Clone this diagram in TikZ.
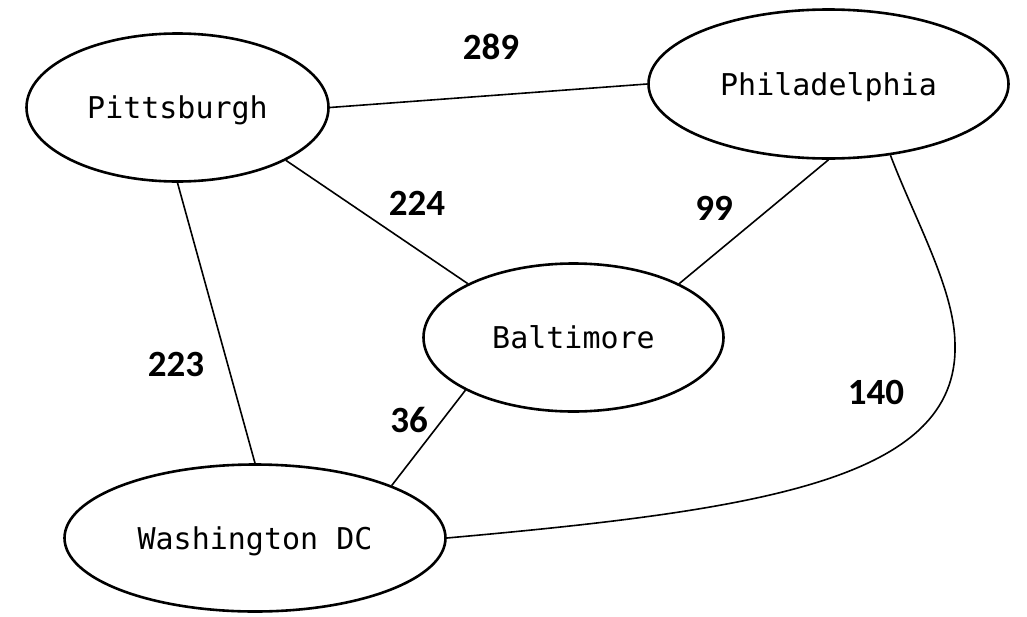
\documentclass[tikz,border=0pt]{standalone}
\usepackage{fontspec}
\setmainfont{Carlito}
\newfontfamily\citymono{DejaVu Sans Mono}
\usetikzlibrary{shapes.geometric}
\begin{document}
\begin{tikzpicture}[x=1pt,y=-1pt,
  city/.style={ellipse, draw, line width=2.6pt, inner sep=0pt, fill=white, text depth=0pt,
    font=\citymono\fontsize{30}{34}\selectfont},
  road/.style={line width=1.6pt},
  dist/.style={font=\bfseries\fontsize{37}{42}\selectfont, inner sep=0pt}]
\useasboundingbox[fill=white] (0,0) rectangle (1027,616);
\node[city, minimum width=302pt, minimum height=148pt] (pitt) at (177.5,107.5) {Pittsburgh};
\node[city, minimum width=360pt, minimum height=149pt] (phil) at (828.5,84) {Philadelphia};
\node[city, minimum width=300pt, minimum height=148pt] (balt) at (573.5,337.5) {Baltimore};
\node[city, minimum width=381pt, minimum height=147pt] (wash) at (255,538) {Washington DC};
\draw[road] (pitt.east) -- (phil.west);
\draw[road] (pitt.-26.7) -- (balt.153.3);
\draw[road] (pitt.south) -- (wash.north);
\draw[road] (phil.south) -- (balt.27.5);
\draw[road] (balt.206.7) -- (wash.21.3);
\coordinate (bend) at (955,345);
\draw[road] (phil.-49.5) .. controls (915,220) and (955,290) .. (bend)
  .. controls (958,480) and (760,510) .. (wash.east);
\node[dist] (d289) at (491,47) {289};
\node[dist] (d224) at (417,203) {224};
\node[dist] (d99) at (714,208) {99};
\node[dist] (d223) at (176,364) {223};
\node[dist] (d36) at (409,420) {36};
\node[dist] (d140) at (876,392) {140};
\end{tikzpicture}
\end{document}
